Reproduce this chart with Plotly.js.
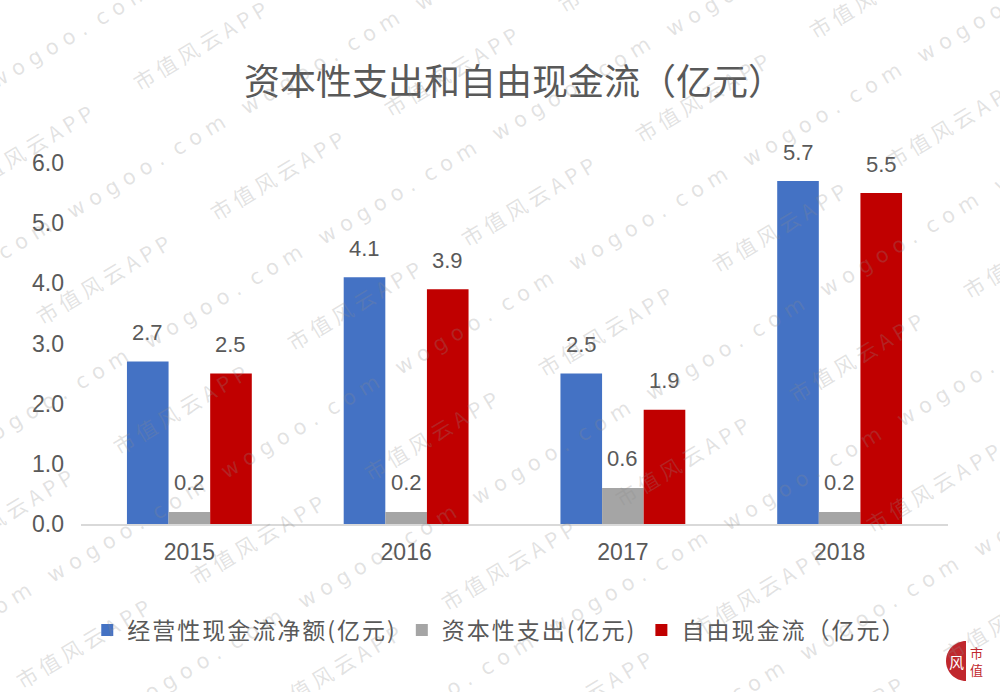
<!DOCTYPE html>
<html>
<head>
<meta charset="utf-8">
<script src="https://cdn.plot.ly/plotly-3.0.1.min.js"></script>
<style>
  html, body { margin: 0; padding: 0; background: #ffffff; }
  #chart { width: 1000px; height: 692px; }
  .legendtext { letter-spacing: 2px; }
</style>
</head>
<body>
<div id="chart"></div>
<script>
// Cash-flow figures, 100 million yuan
const years = ['2015', '2016', '2017', '2018'];
const operatingCash = [2.7, 4.1, 2.5, 5.7];
const capex = [0.2, 0.2, 0.6, 0.2];
const freeCash = [2.5, 3.9, 1.9, 5.5];

const seriesNames = ['经营性现金流净额(亿元)', '资本性支出(亿元)', '自由现金流（亿元）'];
const seriesColors = ['#4472C4', '#A5A5A5', '#C00000'];
const chartTitle = '资本性支出和自由现金流（亿元）';
const yTicks = [0, 1, 2, 3, 4, 5, 6];

const watermarkSite = 'w o g o o .  c o m';
const watermarkApp = '市 值 风 云 A P P';

// Page geometry
const W = 1000, H = 692;
const M = { l: 81, r: 52, t: 163, b: 168 };
const plotW = W - M.l - M.r;
const plotH = H - M.t - M.b;
const BARGAP = 0.424;
const barPx = (plotW / years.length) * (1 - BARGAP) / 3;

const textColor = '#595959';
const baseFont = 'Liberation Sans, Arial, Noto Sans CJK SC, sans-serif';
const cjkFont = 'Noto Sans CJK SC, sans-serif';

const allSeries = [operatingCash, capex, freeCash];

const traces = allSeries.map((vals, i) => ({
  type: 'bar',
  name: seriesNames[i],
  x: years,
  y: vals,
  marker: { color: seriesColors[i] },
  hoverinfo: 'skip'
}));

// Value labels sitting above each bar (x given as category index)
const annotations = [];
allSeries.forEach((vals, s) => {
  vals.forEach((v, c) => {
    annotations.push({
      x: c, y: v, xref: 'x', yref: 'y',
      xshift: (s - 1) * barPx, yshift: 29,
      text: v.toFixed(1), showarrow: false,
      yanchor: 'middle',
      font: { family: baseFont, size: 22, color: textColor }
    });
  });
});

// Diagonal site watermark tiled over the page
const toPX = px => (px - M.l) / plotW;
const toPY = py => (M.t + plotH - py) / plotH;
const wmColor = 'rgba(140,140,140,0.25)';
for (let i = -4; i <= 5; i++) {
  for (let j = -2; j <= 6; j++) {
    const cx = 200 + i * 251 + j * 77;
    const cy = 45 + i * 26 + j * 130;
    const items = [
      { x: cx, y: cy, t: watermarkApp, f: cjkFont },
      { x: cx + 120, y: cy + 18, t: watermarkSite, f: 'DejaVu Sans, sans-serif' }
    ];
    items.forEach(it => {
      if (it.x < -90 || it.x > W + 90 || it.y < -50 || it.y > H + 50) return;
      annotations.push({
        x: toPX(it.x), y: toPY(it.y), xref: 'paper', yref: 'paper',
        text: it.t, showarrow: false, textangle: -31,
        xanchor: 'center', yanchor: 'middle',
        font: { family: it.f, size: 21, color: wmColor }
      });
    });
  }
}

// Corner badge
const bx = 966, by = 661, br = 20, k = 0.5523 * br;
const pt = (x, y) => toPX(x) + ',' + toPY(y);
const badgePath = 'M' + pt(bx, by - br) +
  ' C' + pt(bx - k, by - br) + ' ' + pt(bx - br, by - k) + ' ' + pt(bx - br, by) +
  ' C' + pt(bx - br, by + k) + ' ' + pt(bx - k, by + br) + ' ' + pt(bx, by + br) + ' Z';
const shapes = [{
  type: 'path', xref: 'paper', yref: 'paper', path: badgePath,
  fillcolor: '#C0272D', line: { width: 0 }, layer: 'above'
}];
annotations.push({
  x: toPX(956), y: toPY(661), xref: 'paper', yref: 'paper', showarrow: false,
  xanchor: 'center', yanchor: 'middle',
  text: '风', font: { family: cjkFont, size: 15, color: '#ffffff' }
});
annotations.push({
  x: toPX(976), y: toPY(661), xref: 'paper', yref: 'paper', showarrow: false,
  xanchor: 'center', yanchor: 'middle',
  text: '市<br>值', font: { family: cjkFont, size: 13, color: '#C0272D' }
});

const layout = {
  width: W, height: H,
  margin: M,
  paper_bgcolor: '#ffffff', plot_bgcolor: '#ffffff',
  font: { family: baseFont, color: textColor },
  title: {
    text: chartTitle,
    x: 0.514, xanchor: 'center',
    y: 1 - 82 / H, yanchor: 'middle',
    font: { family: cjkFont, size: 36, color: textColor }
  },
  barmode: 'group', bargap: BARGAP, bargroupgap: 0,
  showlegend: true,
  legend: {
    orientation: 'h', x: 0.483, xanchor: 'center',
    y: (M.t + plotH - 630) / plotH, yanchor: 'middle',
    font: { family: cjkFont, size: 23, color: textColor },
    itemclick: false, itemdoubleclick: false
  },
  xaxis: {
    type: 'category', categoryorder: 'array', categoryarray: years,
    range: [-0.5, years.length - 0.5], autorange: false,
    showline: true, linecolor: '#D9D9D9', linewidth: 1.5,
    showgrid: false, zeroline: false, ticks: '',
    ticklabelstandoff: 7,
    tickfont: { family: baseFont, size: 23, color: textColor },
    fixedrange: true
  },
  yaxis: {
    range: [0, 6], autorange: false, tickvals: yTicks, tickformat: '.1f',
    showline: false, showgrid: false, zeroline: false, ticks: '',
    ticklabelstandoff: 16,
    tickfont: { family: baseFont, size: 23, color: textColor },
    fixedrange: true
  },
  annotations: annotations,
  shapes: shapes
};

Plotly.newPlot('chart', traces, layout, { displayModeBar: false, staticPlot: true });
</script>
</body>
</html>
